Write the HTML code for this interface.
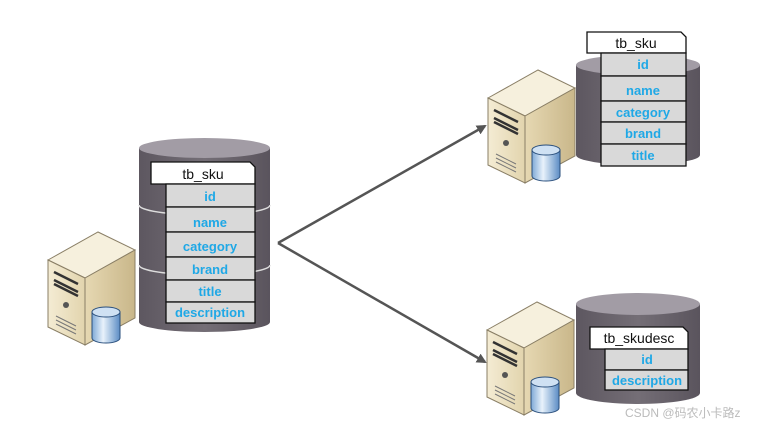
<!DOCTYPE html>
<html><head><meta charset="utf-8"><style>
html,body{margin:0;padding:0;background:#fff;}
svg{display:block;}
text{font-family:"Liberation Sans","DejaVu Sans",sans-serif;}
.f{fill:#1fa8e6;font-size:13px;text-anchor:middle;font-weight:bold;}
.h{fill:#111;font-size:14px;text-anchor:middle;}
.r{fill:#d9d9d9;stroke:#111;stroke-width:1.3;}
</style></head><body>
<svg width="770" height="426" viewBox="0 0 770 426" xmlns="http://www.w3.org/2000/svg">
<defs>
<linearGradient id="cy" x1="0" x2="1"><stop offset="0" stop-color="#5d5760"/><stop offset="0.5" stop-color="#746e76"/><stop offset="1" stop-color="#5a545d"/></linearGradient>
<linearGradient id="fr" x1="0" x2="1"><stop offset="0" stop-color="#f4ecd4"/><stop offset="1" stop-color="#e2d4ad"/></linearGradient>
<linearGradient id="sd" x1="0" x2="1"><stop offset="0" stop-color="#e6d8b2"/><stop offset="1" stop-color="#c9b78a"/></linearGradient>
<linearGradient id="db" x1="0" x2="1"><stop offset="0" stop-color="#7fa9d6"/><stop offset="0.4" stop-color="#e8f2fb"/><stop offset="1" stop-color="#5b8cc4"/></linearGradient>
<marker id="ar" markerWidth="10" markerHeight="10" refX="8" refY="5" orient="auto" markerUnits="userSpaceOnUse"><path d="M0,0 L10,5 L0,10 z" fill="#555"/></marker>
<g id="srv">
 <polygon points="0,30 50,2 87,20 37,48" fill="#f6f0dd" stroke="#8a7f66" stroke-width="1"/>
 <polygon points="0,30 37,48 37,115 0,97" fill="url(#fr)" stroke="#8a7f66" stroke-width="1"/>
 <polygon points="37,48 87,20 87,88 37,115" fill="url(#sd)" stroke="#8a7f66" stroke-width="1"/>
 <path d="M6,42 L30,54 M6,50 L30,62 M6,54 L30,66" stroke="#333" stroke-width="2.5"/>
 <circle cx="18" cy="75" r="3" fill="#555"/>
 <path d="M8,86 L28,96 M8,90 L28,100 M8,94 L28,104" stroke="#777" stroke-width="1"/>
 <path d="M44,82 v26 a14,5 0 0 0 28,0 v-26" fill="url(#db)" stroke="#2a4f7c" stroke-width="1"/>
 <ellipse cx="58" cy="82" rx="14" ry="5" fill="#cfe1f3" stroke="#2a4f7c" stroke-width="1"/>
</g>
</defs>

<!-- arrows -->
<line x1="278" y1="243" x2="485" y2="126" stroke="#555" stroke-width="2.5" marker-end="url(#ar)"/>
<line x1="278" y1="243" x2="485" y2="362" stroke="#555" stroke-width="2.5" marker-end="url(#ar)"/>

<!-- left cylinder -->
<path d="M139,148 V322 A65.5,10 0 0 0 270,322 V148" fill="url(#cy)"/>
<ellipse cx="204.5" cy="148" rx="65.5" ry="10" fill="#a29ca5"/>
<path d="M139,205 A65.5,10 0 0 0 270,205 M139,265 A65.5,10 0 0 0 270,265" fill="none" stroke="#ddd" stroke-width="1.5"/>
<path d="M151,162 H250 L255,167 V184 H151 Z" fill="#fff" stroke="#111" stroke-width="1.3"/>
<text class="h" x="203" y="179">tb_sku</text>
<rect class="r" x="166" y="184" width="89" height="23"/><text class="f" x="210" y="201">id</text>
<rect class="r" x="166" y="207" width="89" height="25"/><text class="f" x="210" y="227">name</text>
<rect class="r" x="166" y="232" width="89" height="25"/><text class="f" x="210" y="251">category</text>
<rect class="r" x="166" y="257" width="89" height="23"/><text class="f" x="210" y="274">brand</text>
<rect class="r" x="166" y="280" width="89" height="22"/><text class="f" x="210" y="296">title</text>
<rect class="r" x="166" y="302" width="89" height="21"/><text class="f" x="210" y="317">description</text>
<use href="#srv" x="48" y="230"/>

<!-- top right -->
<path d="M576,65 V155 A62,10 0 0 0 700,155 V65" fill="url(#cy)"/>
<ellipse cx="638" cy="65" rx="62" ry="10" fill="#a29ca5"/>
<path d="M587,32 H681 L686,37 V53 H587 Z" fill="#fff" stroke="#111" stroke-width="1.3"/>
<text class="h" x="636" y="48">tb_sku</text>
<rect class="r" x="601" y="53" width="85" height="23"/><text class="f" x="643" y="69">id</text>
<rect class="r" x="601" y="76" width="85" height="25"/><text class="f" x="643" y="95">name</text>
<rect class="r" x="601" y="101" width="85" height="21"/><text class="f" x="643" y="117">category</text>
<rect class="r" x="601" y="122" width="85" height="22"/><text class="f" x="643" y="138">brand</text>
<rect class="r" x="601" y="144" width="85" height="22"/><text class="f" x="643" y="160">title</text>
<use href="#srv" x="488" y="68"/>

<!-- bottom right -->
<path d="M576,304 V393 A62,11 0 0 0 700,393 V304" fill="url(#cy)"/>
<ellipse cx="638" cy="304" rx="62" ry="11" fill="#a29ca5"/>
<path d="M590,327 H683 L688,332 V349 H590 Z" fill="#fff" stroke="#111" stroke-width="1.3"/>
<text class="h" x="639" y="343">tb_skudesc</text>
<rect class="r" x="605" y="349" width="83" height="21"/><text class="f" x="647" y="364">id</text>
<rect class="r" x="605" y="370" width="83" height="20"/><text class="f" x="647" y="385">description</text>
<use href="#srv" x="487" y="300"/>

<text x="625" y="417" style="font-size:12px;fill:#bbb;font-family:'Liberation Sans','Noto Sans CJK SC',sans-serif;">CSDN @码农小卡路z</text>
</svg>
</body></html>
